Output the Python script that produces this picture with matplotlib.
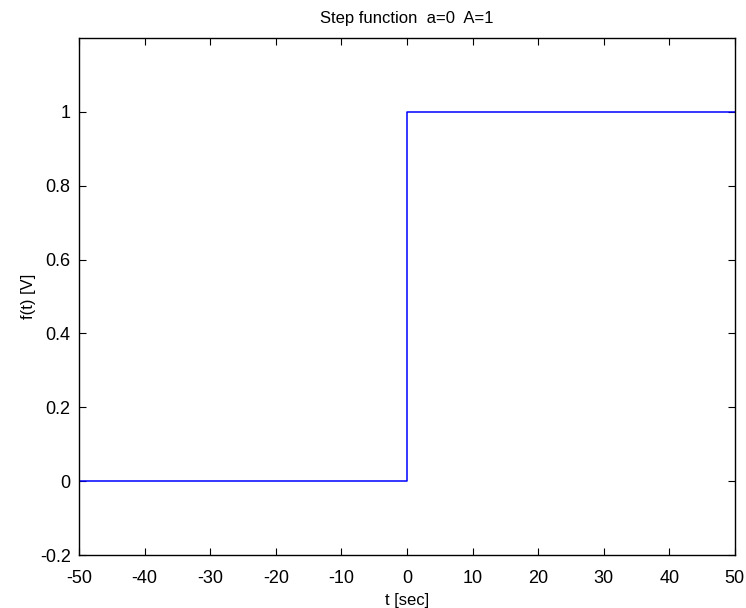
import matplotlib.pyplot as plt

# step function data
t = [-50, 0, 0, 50]
f = [0, 0, 1, 1]
xticks = [-50, -40, -30, -20, -10, 0, 10, 20, 30, 40, 50]
yticks = [-0.2, 0, 0.2, 0.4, 0.6, 0.8, 1]
ytick_labels = ['-0.2', '0', '0.2', '0.4', '0.6', '0.8', '1']

plt.rcParams['font.family'] = ['Liberation Sans', 'DejaVu Sans']
plt.rcParams['axes.unicode_minus'] = False

fig = plt.figure(figsize=(7.46, 6.08), dpi=100)
ax = fig.add_axes([0.106, 0.087, 0.879, 0.8505])
ax.plot(t, f, color='#0000ff', linewidth=1.1)
ax.set_xlim(-50, 50)
ax.set_ylim(-0.2, 1.2)
ax.set_xticks(xticks)
ax.set_yticks(yticks)
ax.set_yticklabels(ytick_labels)
ax.tick_params(direction='in', top=True, right=True, length=5, width=0.8,
               labelsize=13)
ax.tick_params(axis='x', pad=11)
ax.tick_params(axis='y', pad=6)
for s in ax.spines.values():
    s.set_linewidth(1.0)
ax.set_title('Step function  a=0  A=1', fontsize=12, pad=11)
ax.set_xlabel('t [sec]', fontsize=12, labelpad=4)
ax.set_ylabel('f(t) [V]', fontsize=12, labelpad=3)

fig.savefig('out.png', dpi=100)
